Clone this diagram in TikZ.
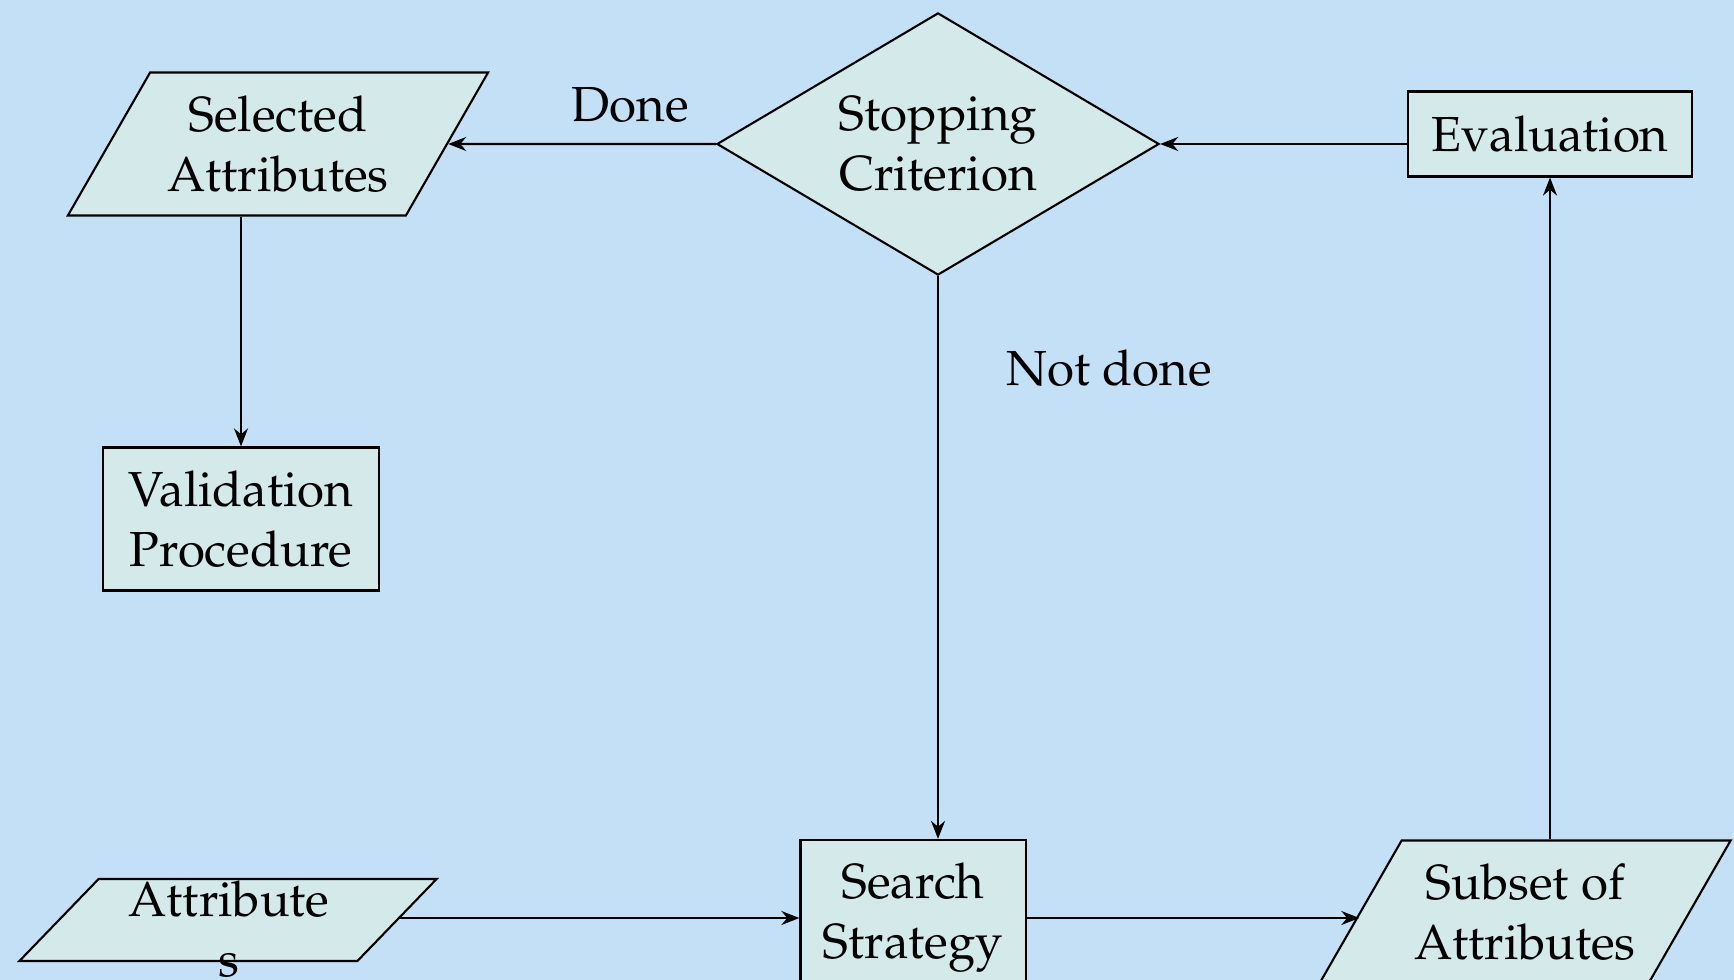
\documentclass[tikz,border=0pt]{standalone}
\usepackage[T1]{fontenc}
\usepackage{mathpazo}
\usetikzlibrary{shapes.geometric,arrows.meta}
\definecolor{bgblue}{RGB}{196,224,247}
\definecolor{boxfill}{RGB}{212,233,234}

\begin{document}
\begin{tikzpicture}[x=0.01cm,y=-0.01cm,
  font=\fontsize{14}{17}\selectfont,
  box/.style={draw,fill=boxfill,line width=0.6pt,align=center,inner sep=2pt},
  para/.style={trapezium,trapezium left angle=60,trapezium right angle=120,
    trapezium stretches body,draw,fill=boxfill,line width=0.6pt,align=center,
    inner xsep=1pt,inner ysep=0.23cm},
  decide/.style={diamond,aspect=1.69,draw,fill=boxfill,line width=0.6pt,align=center,inner sep=0pt},
  flow/.style={-{Stealth[length=1.8mm,width=1.4mm]},line width=0.6pt}]
% Background
\fill[bgblue] (0,0) rectangle (1734,980);
\useasboundingbox (0,0) rectangle (1734,980);
% Top row
\node[para,minimum width=4.2cm,minimum height=1.43cm] (sel) at (278,144) {Selected\\Attributes};
\node[decide,minimum width=4.42cm,minimum height=2.62cm] (stop) at (938,144) {Stopping\\Criterion};
\node[box,minimum width=2.83cm,minimum height=0.85cm] (eval) at (1550,134) {Evaluation};
\node (done) at (630,105) {Done};
% Middle
\node[box,minimum width=2.76cm,minimum height=1.43cm] (valid) at (241,519) {Validation\\Procedure};
\node (notdone) at (1109,368) {Not done};
% Bottom row
\node[para,trapezium left angle=46,trapezium right angle=134,inner ysep=0.41cm,
  minimum width=4.17cm,minimum height=0.82cm] (attr) at (228,920) {};
\node[align=center] (attrtxt) at (229,929) {Attribute\\s};
\node[box,minimum width=2.25cm,minimum height=1.56cm] (search) at (913,918) {Search\\Strategy};
\node[para,minimum width=4.11cm,minimum height=1.43cm] (subset) at (1525,912) {Subset of\\Attributes};
% Arrows
\draw[flow] (stop.west) -- (sel.east);
\draw[flow] (eval.west |- stop) -- (stop.east);
\draw[flow] (sel.south -| valid) -- (valid.north);
\draw[flow] (stop.south) -- (stop.south |- search.north);
\draw[flow] (attr.east |- search) -- (search.west);
\draw[flow] (search.east) -- (search.east -| subset.west);
\draw[flow] (eval.south |- subset.north) -- (eval.south);
\end{tikzpicture}
\end{document}
